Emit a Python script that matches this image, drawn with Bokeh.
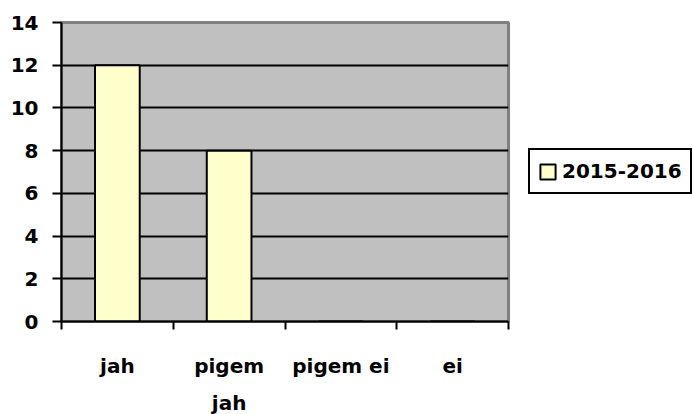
from bokeh.plotting import figure
from bokeh.models import Range1d, FixedTicker, Legend, LegendItem
from bokeh.embed import file_html
from bokeh.resources import INLINE

categories = ["jah", "pigem\njah", "pigem ei", "ei"]
series_name = "2015-2016"
values = [12, 8, 0, 0]
y_ticks = [0, 2, 4, 6, 8, 10, 12, 14]

n = len(categories)
xs = [i + 0.5 for i in range(n)]

FONT = "DejaVu Sans"

p = figure(frame_width=447, frame_height=299, output_backend="svg", toolbar_location=None,
           x_range=Range1d(0, n), y_range=Range1d(0, 14),
           min_border_left=61, min_border_top=22, min_border_bottom=93,
           min_border_right=184)

p.background_fill_color = "#C0C0C0"
p.border_fill_color = "white"
p.outline_line_color = "#808080"
p.outline_line_width = 3

r = p.vbar(x=xs, top=values, width=0.4, bottom=0,
           fill_color="#FFFFCC", line_color="black", line_width=2)

# x axis
xa = p.xaxis[0]
xa.ticker = FixedTicker(ticks=xs, minor_ticks=list(range(n + 1)))
xa.major_label_overrides = {x: c for x, c in zip(xs, categories)}
xa.major_tick_out = 0
xa.major_tick_in = 0
xa.minor_tick_out = 8
xa.minor_tick_in = 0
xa.minor_tick_line_color = "black"
xa.minor_tick_line_width = 2
xa.axis_line_color = "black"
xa.axis_line_width = 2
xa.major_label_standoff = 24
xa.major_label_text_font = FONT
xa.major_label_text_font_style = "bold"
xa.major_label_text_font_size = "20px"
xa.major_label_text_color = "black"
xa.major_label_text_line_height = 1.55

# y axis
ya = p.yaxis[0]
ya.ticker = FixedTicker(ticks=y_ticks)
ya.minor_tick_out = 0
ya.minor_tick_in = 0
ya.major_tick_out = 9
ya.major_tick_in = 0
ya.major_tick_line_color = "black"
ya.major_tick_line_width = 2
ya.axis_line_color = "black"
ya.axis_line_width = 2
ya.major_label_standoff = 14
ya.major_label_text_font = FONT
ya.major_label_text_font_style = "bold"
ya.major_label_text_font_size = "20px"
ya.major_label_text_color = "black"

p.xgrid.visible = False
p.ygrid.ticker = FixedTicker(ticks=y_ticks[1:-1])
p.ygrid.grid_line_color = "black"
p.ygrid.grid_line_width = 2

legend = Legend(items=[LegendItem(label=series_name, renderers=[r])],
                location=(20, 127), margin=0, padding=8, spacing=0,
                glyph_width=19, glyph_height=19, label_standoff=5,
                label_text_font=FONT, label_text_font_style="bold",
                label_text_font_size="20px", label_text_color="black",
                label_height=26,
                border_line_color="black", border_line_width=2, border_line_alpha=1,
                background_fill_color="white", background_fill_alpha=1)
p.add_layout(legend, "right")

open("out.html", "w").write(file_html(p, INLINE))
